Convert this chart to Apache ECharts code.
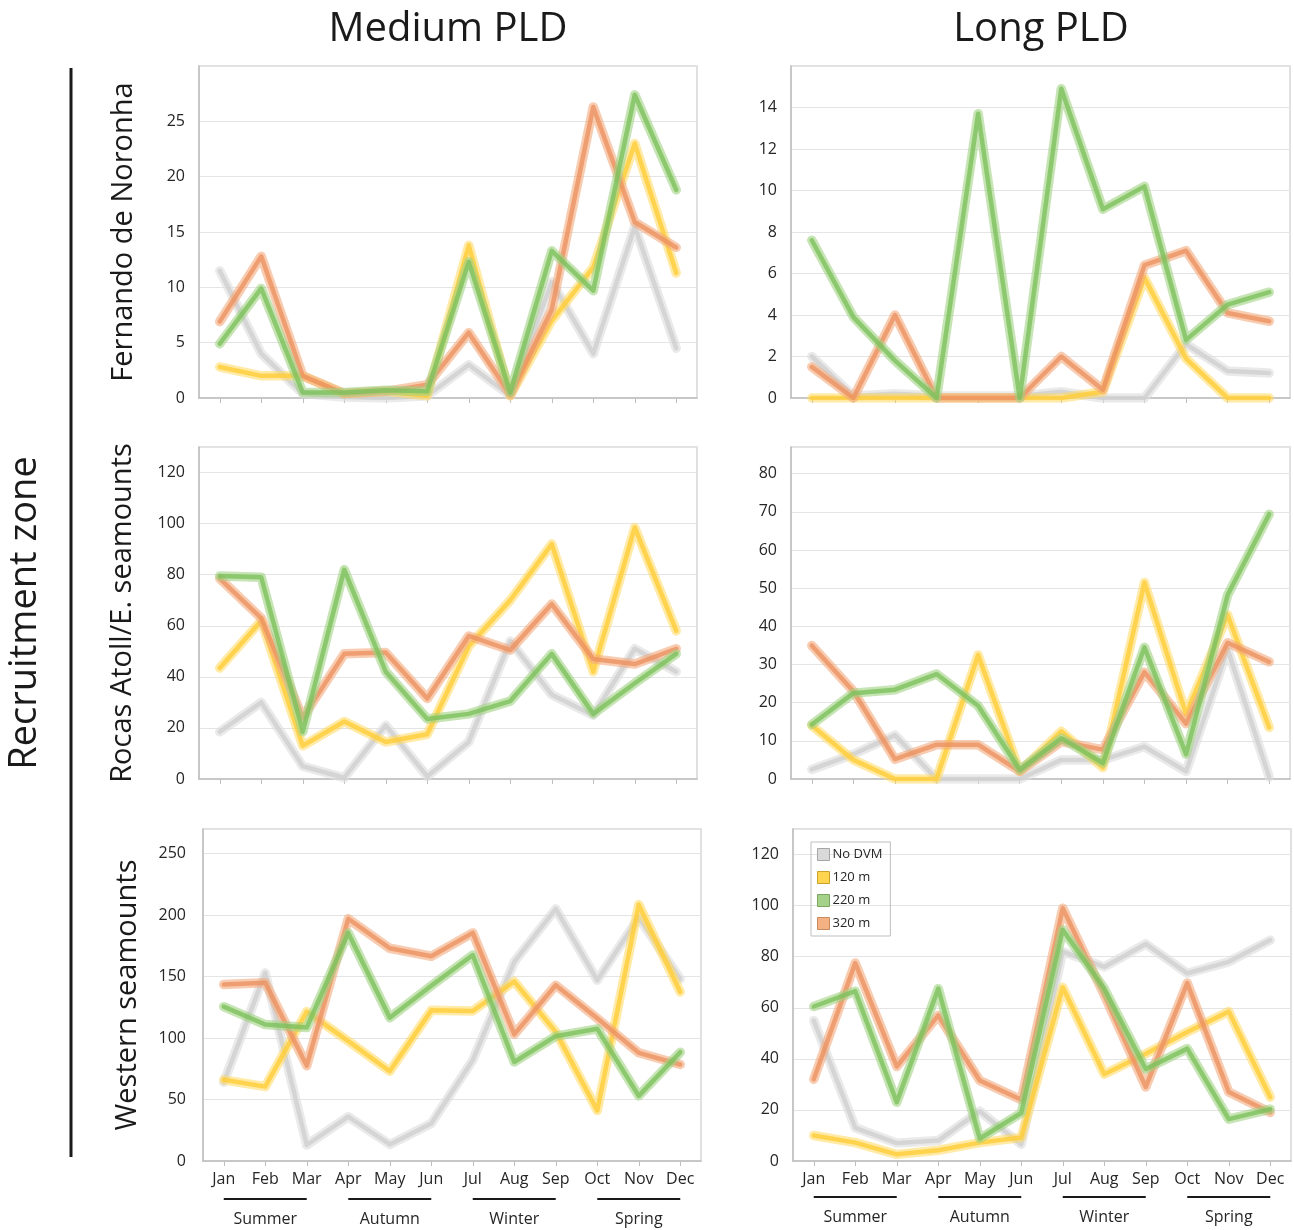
<!DOCTYPE html>
<html><head><meta charset="utf-8">
<script src="https://cdn.jsdelivr.net/npm/echarts@6/dist/echarts.min.js"></script>
<style>html,body{margin:0;padding:0;background:#fff}#c{width:1294px;height:1230px}</style>
</head><body><div id="c"></div>
<script>
const months = ['Jan','Feb','Mar','Apr','May','Jun','Jul','Aug','Sep','Oct','Nov','Dec'];
const seasons = ['Summer','Autumn','Winter','Spring'];
const seriesNames = ['No DVM','120 m','220 m','320 m'];
const columnTitles = ['Medium PLD','Long PLD'];
const rowTitles = ['Fernando de Noronha','Rocas Atoll/E. seamounts','Western seamounts'];
const sideTitle = 'Recruitment zone';

// Medium PLD - Fernando de Noronha
const medFN_noDVM = [11.5, 4.0, 0.4, 0.1, 0.0, 0.2, 3.0, 0.2, 10.5, 4.0, 15.5, 4.5];
const medFN_120   = [2.8, 2.0, 2.0, 0.4, 0.6, 0.2, 13.8, 0.2, 7.0, 11.8, 23.0, 11.3];
const medFN_220   = [4.9, 9.9, 0.5, 0.5, 0.7, 0.6, 12.3, 0.5, 13.3, 9.7, 27.4, 18.8];
const medFN_320   = [6.9, 12.8, 2.0, 0.4, 0.6, 1.2, 5.9, 0.3, 8.0, 26.3, 15.9, 13.6];
// Long PLD - Fernando de Noronha
const longFN_noDVM = [2.0, 0.1, 0.2, 0.1, 0.1, 0.1, 0.3, 0.0, 0.0, 2.6, 1.3, 1.2];
const longFN_120   = [0, 0, 0, 0, 0, 0, 0, 0.3, 5.8, 1.9, 0, 0];
const longFN_220   = [7.6, 3.9, 1.8, 0, 13.7, 0, 14.9, 9.1, 10.2, 2.8, 4.5, 5.1];
const longFN_320   = [1.5, 0, 4.0, 0, 0, 0, 2.0, 0.4, 6.4, 7.1, 4.1, 3.7];
// Medium PLD - Rocas Atoll
const medRA_noDVM = [18.5, 30, 5, 0.5, 21, 1, 14.5, 54, 33, 25, 51, 42];
const medRA_120   = [43.5, 62, 13, 22.5, 14.5, 17.5, 52, 70, 92, 42, 98.5, 58];
const medRA_220   = [79.5, 79, 18.5, 82, 42, 23.5, 25.5, 30.5, 49, 25.5, 37.5, 49];
const medRA_320   = [78.5, 63, 24, 49, 49.5, 31.5, 56, 50.5, 68.5, 47, 45, 51];
// Long PLD - Rocas Atoll
const longRA_noDVM = [2.5, 6.5, 11.5, 0, 0, 0, 5, 5, 8.5, 2, 34, 0.5];
const longRA_120   = [14, 5, 0, 0, 32.5, 2, 12.5, 3, 51.5, 17, 43, 13.5];
const longRA_220   = [14.3, 22.5, 23.4, 27.5, 19.2, 2.4, 10.7, 4.2, 34.5, 6.5, 48.2, 69.4];
const longRA_320   = [35, 23, 5.2, 9, 9, 2, 9.8, 7.7, 28, 14.5, 35.7, 30.7];
// Medium PLD - Western seamounts
const medWS_noDVM = [64, 153, 13, 36, 13.5, 30.5, 82, 162, 205, 147, 198, 148];
const medWS_120   = [66, 60.5, 121.5, 97.5, 73, 122.5, 122, 146, 105, 41, 208.5, 137.5];
const medWS_220   = [125.5, 111, 108.5, 185.5, 116.5, 142.5, 167.5, 80.5, 101.5, 107.5, 53, 88.5];
const medWS_320   = [143.5, 145, 77.5, 197, 173, 166.5, 185.5, 103, 143, 116, 88, 78.5];
// Long PLD - Western seamounts
const longWS_noDVM = [55, 13, 7, 8, 19.5, 6.5, 82, 76, 85, 73.5, 78, 86.5];
const longWS_120   = [10, 7.2, 2.6, 4.2, 7.2, 9.2, 68, 34, 42, 50.5, 58.5, 25];
const longWS_220   = [60.5, 66.5, 23, 67.5, 8.8, 18.8, 90.5, 67.5, 36, 44, 16.4, 20.3];
const longWS_320   = [32, 77.5, 37, 57, 31.5, 24, 99, 65, 29, 69.7, 27, 19];

const yMax = [30, 16, 130, 87, 270, 130];
const yInterval = [5, 2, 20, 10, 50, 20];

const panels = [
  [medFN_noDVM, medFN_120, medFN_220, medFN_320],
  [longFN_noDVM, longFN_120, longFN_220, longFN_320],
  [medRA_noDVM, medRA_120, medRA_220, medRA_320],
  [longRA_noDVM, longRA_120, longRA_220, longRA_320],
  [medWS_noDVM, medWS_120, medWS_220, medWS_320],
  [longWS_noDVM, longWS_120, longWS_220, longWS_320]
];

const FONT = '"Open Sans", "Noto Sans", sans-serif';
const outerCol = ['rgba(222,222,222,0.65)','rgba(255,216,95,0.55)','rgba(160,210,130,0.6)','rgba(243,170,125,0.6)'];
const innerCol = ['rgba(205,205,205,0.75)','rgba(255,205,55,0.8)','rgba(125,192,92,0.8)','rgba(236,145,95,0.78)'];
const swatch = ['#d9d9d9','#ffd54f','#a5d18a','#f4b183'];
const swatchBorder = ['#a6a6a6','#c9a227','#7aa760','#c98a5e'];
const drawOrder = [0,1,3,2];

// panel boxes: [left, top, width, height]
const boxes = [
  [199, 66, 498, 332], [791, 66, 499, 332],
  [199, 447, 498, 332], [791, 447, 499, 332],
  [203, 829, 498, 332], [793, 829, 498, 332]
];

const grids = [], xAxes = [], yAxes = [], series = [];
for (let p = 0; p < 6; p++) {
  const r = Math.floor(p / 2);
  const b = boxes[p];
  grids.push({left: b[0], top: b[1], width: b[2], height: b[3], show: true,
    borderColor: '#d6d6d6', borderWidth: 1.5, backgroundColor: 'transparent'});
  xAxes.push({type: 'category', gridIndex: p, data: months, boundaryGap: true,
    axisLine: {lineStyle: {color: '#bfbfbf', width: 1.5}},
    axisTick: {show: true, alignWithLabel: true, length: 5, lineStyle: {color: '#bfbfbf'}},
    axisLabel: {show: r === 2, fontFamily: FONT, fontSize: 16, color: '#262626', margin: 10},
    splitLine: {show: false}});
  yAxes.push({type: 'value', gridIndex: p, min: 0, max: yMax[p], interval: yInterval[p],
    axisLine: {show: true, lineStyle: {color: '#bfbfbf', width: 1.5}},
    axisTick: {show: false},
    axisLabel: {fontFamily: FONT, fontSize: 16, color: '#262626', margin: r === 2 && p === 4 ? 17 : 14, showMaxLabel: false},
    splitLine: {show: true, lineStyle: {color: '#e4e4e4', width: 1.2}}});
  for (const s of drawOrder) {
    series.push({type: 'line', name: seriesNames[s], xAxisIndex: p, yAxisIndex: p,
      data: panels[p][s], symbol: 'none', silent: true,
      itemStyle: {color: swatch[s]},
      lineStyle: {color: outerCol[s], width: 9.5, join: 'round', cap: 'round'}});
    series.push({type: 'line', name: seriesNames[s], xAxisIndex: p, yAxisIndex: p,
      data: panels[p][s], symbol: 'none', silent: true,
      itemStyle: {color: swatch[s]},
      lineStyle: {color: innerCol[s], width: 4.5, join: 'round', cap: 'round'}});
  }
}

const chart = echarts.init(document.getElementById('c'), null, {renderer: 'canvas'});
const graphics = [
  {type: 'text', x: 448, y: 30, style: {text: columnTitles[0], font: '40px ' + FONT, fill: '#1a1a1a', textAlign: 'center', textVerticalAlign: 'middle'}},
  {type: 'text', x: 1041, y: 30, style: {text: columnTitles[1], font: '40px ' + FONT, fill: '#1a1a1a', textAlign: 'center', textVerticalAlign: 'middle'}},
  {type: 'text', x: 25, y: 613, rotation: Math.PI / 2, style: {text: sideTitle, font: '38px ' + FONT, fill: '#1a1a1a', textAlign: 'center', textVerticalAlign: 'middle'}},
  {type: 'line', shape: {x1: 71, y1: 68, x2: 71, y2: 1157}, style: {stroke: '#1a1a1a', lineWidth: 3}},
  {type: 'text', x: 124, y: 232, rotation: Math.PI / 2, style: {text: rowTitles[0], font: '29px ' + FONT, fill: '#1a1a1a', textAlign: 'center', textVerticalAlign: 'middle'}},
  {type: 'text', x: 123, y: 613, rotation: Math.PI / 2, style: {text: rowTitles[1], font: '29px ' + FONT, fill: '#1a1a1a', textAlign: 'center', textVerticalAlign: 'middle'}},
  {type: 'text', x: 128, y: 995, rotation: Math.PI / 2, style: {text: rowTitles[2], font: '29px ' + FONT, fill: '#1a1a1a', textAlign: 'center', textVerticalAlign: 'middle'}}
];

chart.setOption({
  animation: false,
  backgroundColor: '#fff',
  grid: grids, xAxis: xAxes, yAxis: yAxes, series: series,
  legend: {show: true, orient: 'vertical', left: 811, top: 842, selectedMode: false,
    borderColor: '#bfbfbf', borderWidth: 1, padding: [6, 8, 6, 6],
    itemWidth: 12, itemHeight: 12, itemGap: 10, icon: 'rect',
    textStyle: {fontFamily: FONT, fontSize: 13, color: '#262626', padding: [0, 0, 0, -2]},
    data: seriesNames.map((n, i) => ({name: n, icon: 'rect', itemStyle: {color: swatch[i], borderColor: swatchBorder[i], borderWidth: 1}}))},
  graphic: graphics
});

// season bars under bottom row, positioned via the category axes
const extra = [];
for (const p of [4, 5]) {
  const base = boxes[p][1] + boxes[p][3];
  const dy = p === 4 ? 0 : -2;
  for (let s = 0; s < seasons.length; s++) {
    const x1 = chart.convertToPixel({xAxisIndex: p}, 3 * s);
    const xm = chart.convertToPixel({xAxisIndex: p}, 3 * s + 1);
    const x2 = chart.convertToPixel({xAxisIndex: p}, 3 * s + 2);
    extra.push({type: 'line', shape: {x1: x1, y1: base + 38 + dy, x2: x2, y2: base + 38 + dy}, style: {stroke: '#1a1a1a', lineWidth: 2}});
    extra.push({type: 'text', x: xm, y: base + 58 + dy, style: {text: seasons[s], font: '16px ' + FONT, fill: '#262626', textAlign: 'center', textVerticalAlign: 'middle'}});
  }
}
chart.setOption({graphic: graphics.concat(extra)});
</script>
</body></html>
